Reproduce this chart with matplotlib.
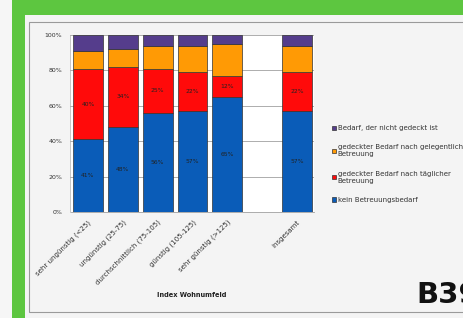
import numpy as np
import matplotlib.pyplot as plt
from matplotlib.patches import Rectangle

# data (share in %)
categories = ['sehr ungünstig (<25)', 'ungünstig (25-75)', 'durchschnittlich (75-105)',
              'günstig (105-125)', 'sehr günstig (>125)', '', 'insgesamt']
kein = [41, 48, 56, 57, 65, np.nan, 57]
taeglich = [40, 34, 25, 22, 12, np.nan, 22]
gelegentlich = [10, 10, 13, 15, 18, np.nan, 15]
ungedeckt = [9, 8, 6, 6, 5, np.nan, 6]

series_labels = ['kein Betreuungsbedarf',
                 'gedeckter Bedarf nach täglicher\nBetreuung',
                 'gedeckter Bedarf nach gelegentlicher\nBetreuung',
                 'Bedarf, der nicht gedeckt ist']
colors = ['#0a5cb8', '#ff0a0a', '#ff9a05', '#553d8c']

W, H = 464, 318
fig = plt.figure(figsize=(W / 100, H / 100), dpi=100)
fig.patch.set_facecolor('#5dc640')

def px_rect(x0, y0, x1, y1, **kw):
    # rectangle given in pixel coords (top-left origin), kept behind the axes
    fig.patches.append(Rectangle((x0 / W, 1 - y1 / H), (x1 - x0) / W, (y1 - y0) / H,
                                 transform=fig.transFigure, figure=fig, zorder=-10, **kw))

px_rect(0, 0, 12, H, facecolor='#f6f6f6', edgecolor='none')
px_rect(25, 15, W + 5, H + 5, facecolor='#f4f4f4', edgecolor='none')
px_rect(29, 22, W + 5, 312, facecolor='#f4f4f4', edgecolor='#9a9a9a', linewidth=0.8)

ax = fig.add_axes([70.5 / W, 1 - 212 / H, 244 / W, 177 / H])
ax.set_zorder(5)
ax.set_facecolor('white')

x = np.arange(len(categories))
series = [kein, taeglich, gelegentlich, ungedeckt]
bottom = np.zeros(len(categories))
for i, (vals, col, lab) in enumerate(zip(series, colors, series_labels)):
    v = np.array(vals, dtype=float)
    ax.bar(x, v, 0.86, bottom=bottom, color=col, edgecolor='#333333', linewidth=0.5, label=lab)
    if i < 2:
        for xi, vi, bi in zip(x, v, bottom):
            if not np.isnan(vi):
                ax.text(xi, bi + vi / 2, f'{vi:.0f}%', ha='center', va='center',
                        fontsize=4.3, color='#222222')
    bottom = bottom + np.nan_to_num(v)

ax.set_ylim(0, 100)
ax.set_xlim(-0.5, len(categories) - 0.5)
ax.set_yticks(range(0, 101, 20))
ax.set_yticklabels([f'{t}%' for t in range(0, 101, 20)], fontsize=4.5, color='#333333')
ax.set_xticks(x)
ax.set_xticklabels(categories, rotation=45, ha='right', rotation_mode='anchor',
                   fontsize=5.0, color='#333333')
ax.tick_params(axis='y', length=0, pad=6)
ax.tick_params(axis='x', length=0, pad=5)
ax.yaxis.grid(True, color='#a0a0a0', linewidth=0.6)
ax.set_axisbelow(True)
for s in ['top', 'right']:
    ax.spines[s].set_visible(False)
ax.spines['left'].set_color('#b0b0b0')
ax.spines['left'].set_linewidth(0.5)
ax.spines['bottom'].set_color('#a0a0a0')
ax.spines['bottom'].set_linewidth(0.6)

fig.text(192 / W, 1 - 295 / H, 'Index Wohnumfeld', ha='center', va='center',
         fontsize=4.8, fontweight='bold', color='#222222')

handles, labels = ax.get_legend_handles_labels()
fig.legend(handles[::-1], labels[::-1], loc='upper left', bbox_to_anchor=(326 / W, 1 - 119 / H),
           fontsize=5.0, frameon=False, handlelength=0.6, handleheight=0.6,
           handletextpad=0.2, labelspacing=1.9, labelcolor='#333333')

fig.text(416 / W, 1 - 303 / H, 'B39', ha='left', va='baseline', fontsize=21,
         fontweight='bold', color='#111111')

fig.savefig('out.png', dpi=100, facecolor=fig.get_facecolor())
